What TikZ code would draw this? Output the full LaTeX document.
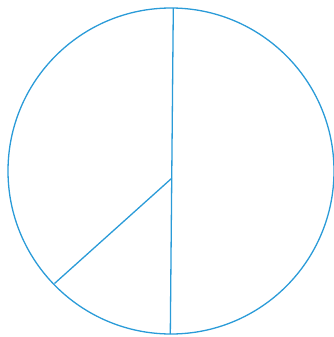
\documentclass[tikz,border=0pt]{standalone}
\usepackage{xcolor}
\usepackage{tikz}
\definecolor{penblue}{HTML}{2A9BD8}
\usetikzlibrary{calc}

\begin{document}
\begin{tikzpicture}[
    x=1pt, y=-1pt,
    pen/.style={draw=penblue, line width=1.3pt},
]
% --- Frame (reference size) ---
\useasboundingbox (0,0) rectangle (334,337);

% --- Circle ---
\coordinate (cO) at (171, 171);          % circle center
\def\R{163}                              % circle radius
\draw[pen] (cO) circle (\R);

% --- Points on the chord and the circle ---
\coordinate (pTop)  at (173.3, 8);       % top end of the vertical line
\coordinate (pBot)  at (170.3, 334);     % bottom end of the vertical line
\coordinate (pMid)  at (171.7, 178.3);   % point on the vertical line
\coordinate (pLow)  at (54.5, 283.5);    % lower-left point on the circle

% --- Segments ---
\draw[pen] (pTop) -- (pBot);
\draw[pen] (pMid) -- (pLow);
\end{tikzpicture}
\end{document}
